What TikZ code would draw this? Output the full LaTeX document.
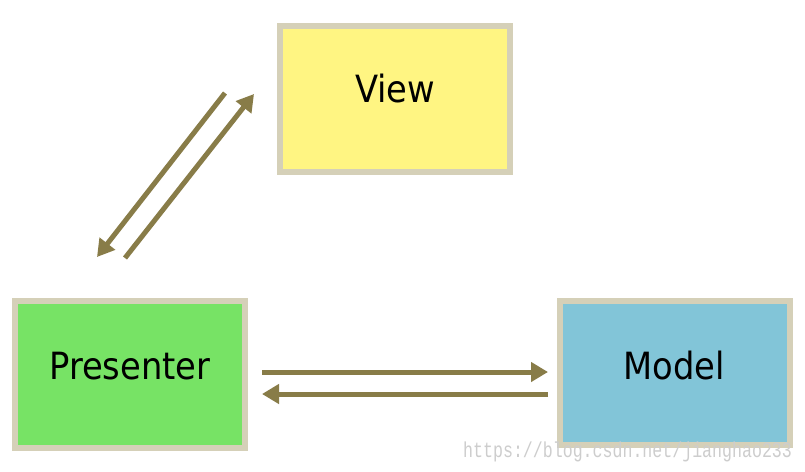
\documentclass[tikz,border=0pt]{standalone}
\usepackage{fontspec}
\setmainfont{DejaVu Sans Condensed}
\newfontfamily\wmfont{Liberation Mono}
\usetikzlibrary{arrows.meta}
\definecolor{bordc}{RGB}{213,208,184}
\definecolor{viewc}{RGB}{255,245,130}
\definecolor{presc}{RGB}{119,227,101}
\definecolor{modc}{RGB}{130,197,216}
\definecolor{arrc}{RGB}{136,124,72}
\definecolor{wmc}{RGB}{205,205,205}
\tikzset{
  box/.style={draw=bordc, line width=6pt, inner sep=0pt},
  lbl/.style={font=\fontsize{37.5}{40}\selectfont, inner sep=0pt, text=black},
  conn/.style={draw=arrc, line width=5pt, -{Triangle[length=17pt,width=19pt]}}
}
\begin{document}
\begin{tikzpicture}[x=1pt,y=-1pt]
\useasboundingbox[fill=white] (0,0) rectangle (805,471);
% boxes
\node[box, fill=viewc, minimum width=230pt, minimum height=146pt] (view) at (395,99) {};
\node[box, fill=presc, minimum width=230pt, minimum height=147pt] (pres) at (130,374.5) {};
\node[box, fill=modc, minimum width=230pt, minimum height=144pt] (model) at (675,373) {};
% labels
\node[lbl] (vt) at (395,89) {View};
\node[lbl] (pt) at (130,366) {Presenter};
\node[lbl] (mt) at (674,366) {Model};
% connector end points
\coordinate (d1s) at (225,93);
\coordinate (d1e) at (97,257);
\coordinate (d2s) at (125,258);
\coordinate (d2e) at (254,94);
\coordinate (h1s) at (262,372);
\coordinate (h1e) at (548,372);
\coordinate (h2s) at (548,394);
\coordinate (h2e) at (262,394);
\draw[conn] (d1s) -- (d1e);
\draw[conn] (d2s) -- (d2e);
\draw[conn] (h1s) -- (h1e);
\draw[conn] (h2s) -- (h2e);
% watermark
\node[font=\wmfont\fontsize{16.6}{18}\selectfont, text=wmc, inner sep=0pt, anchor=west] (wm) at (463,452) {\scalebox{1}[1.3]{https://blog.csdn.net/jianghao233}};
\end{tikzpicture}
\end{document}
